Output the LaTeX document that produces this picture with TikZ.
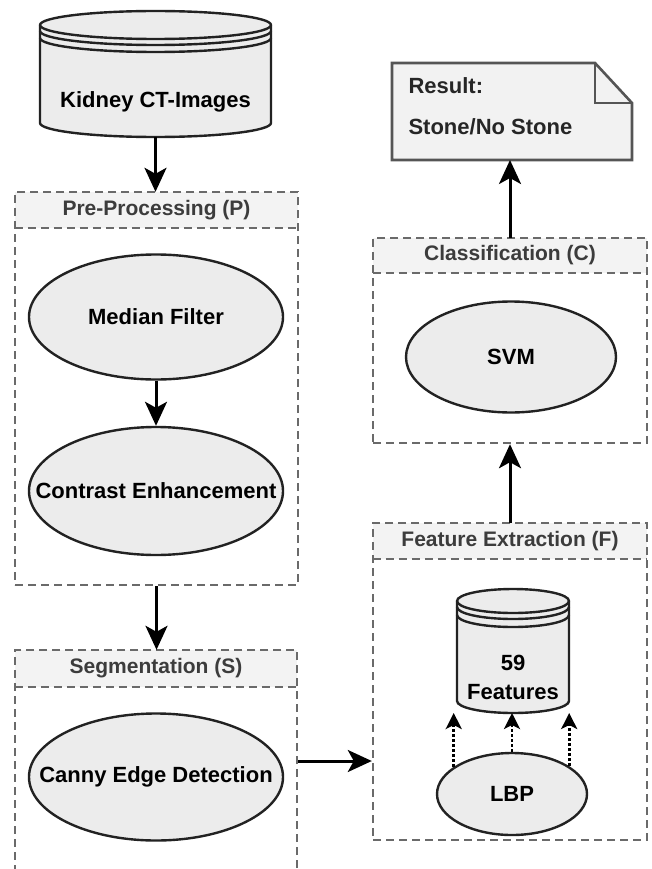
\documentclass[tikz,border=0pt]{standalone}
\usepackage{fontspec}
\setmainfont{Liberation Sans}
\usetikzlibrary{shapes.geometric,arrows.meta,calc}

\definecolor{shapefill}{HTML}{ECECEC}
\definecolor{headfill}{HTML}{F3F3F3}
\definecolor{dashgray}{HTML}{6A6A6A}
\definecolor{outline}{HTML}{222222}
\definecolor{headtext}{HTML}{3C3C3C}
\definecolor{notefill}{HTML}{F2F2F2}
\definecolor{noteline}{HTML}{555555}

\tikzset{
  every node/.style={font=\fontsize{22}{26}\selectfont\bfseries},
  procnode/.style={ellipse, draw=outline, fill=shapefill, line width=2.4pt, inner sep=0pt},
  groupline/.style={draw=dashgray, line width=2.4pt, dash pattern=on 8pt off 5pt},
  groupbox/.style={groupline, inner sep=0pt},
  grouphead/.style={fill=headfill, text=headtext, inner sep=0pt, font=\fontsize{21}{25}\selectfont\bfseries},
  flow/.style={-{Stealth[length=24pt,width=22pt,inset=6pt]}, line width=3pt, black},
  dotflow/.style={-{Stealth[length=16pt,width=16pt,inset=4pt]}, line width=2.8pt, dash pattern=on 2.8pt off 2.2pt, black},
  storeframe/.style={draw=outline, fill=shapefill, line width=2.4pt},
  storeline/.style={draw=outline, line width=2.4pt},
  notestyle/.style={draw=noteline, fill=notefill, line width=2.6pt, line join=miter},
  anchorbox/.style={inner sep=0pt, outer sep=0pt},
}

% centred label of zero width, so an ellipse keeps its own size
\newcommand\ctr[1]{\makebox[0pt]{#1}}

% data store cylinder: left, right, top, bottom, lid radius, rim offsets
\newcommand\storeshape[7]{%
  \pgfmathsetmacro\strx{(#2-#1)/2}%
  \path[storeframe] (#1,-#3-#5) -- (#1,-#4+#5)
    arc[start angle=180,end angle=360,x radius=\strx,y radius=#5]
    -- (#2,-#3-#5)
    arc[start angle=0,end angle=180,x radius=\strx,y radius=#5] -- cycle;
  \draw[storeline] (#1,-#3-#5) arc[start angle=180,end angle=360,x radius=\strx,y radius=#5];
  \draw[storeline] (#1,-#3-#5-#6) arc[start angle=180,end angle=360,x radius=\strx,y radius=#5];
  \draw[storeline] (#1,-#3-#5-#7) arc[start angle=180,end angle=360,x radius=\strx,y radius=#5];
}

\begin{document}
\begin{tikzpicture}[x=1pt,y=1pt]
\useasboundingbox (0,0) rectangle (652,-869);

% ---------- input store ----------
\storeshape{40}{271}{11}{137}{14}{6}{13}
\node[anchorbox, minimum width=231pt, minimum height=126pt] (kidney) at (155.5,-74) {};
\node (kidneylbl) at (155.5,-102) {Kidney CT-Images};

% ---------- pre-processing group ----------
\node[grouphead, minimum width=283pt, minimum height=36pt] (preh) at (156.5,-210) {Pre-Processing (P)};
\node[groupbox, minimum width=283pt, minimum height=393pt] (pre) at (156.5,-388.5) {};
\draw[groupline] (preh.south west) -- (preh.south east);
\node[procnode, minimum width=254pt, minimum height=125pt] (median) at (156,-317) {\ctr{Median Filter}};
\node[procnode, minimum width=254pt, minimum height=128pt] (contrast) at (156,-491) {\ctr{Contrast Enhancement}};

% ---------- segmentation group ----------
\node[grouphead, minimum width=282pt, minimum height=37pt] (segh) at (156,-668.5) {Segmentation (S)};
\node[groupbox, minimum width=282pt, minimum height=222pt] (seg) at (156,-761) {};
\draw[groupline] (segh.south west) -- (segh.south east);
\node[procnode, minimum width=254pt, minimum height=127pt] (canny) at (156,-777) {\ctr{Canny Edge Detection}};

% ---------- feature extraction group ----------
\node[grouphead, minimum width=274pt, minimum height=36pt] (feath) at (510,-541) {Feature Extraction (F)};
\node[groupbox, minimum width=274pt, minimum height=317pt] (feat) at (510,-681.5) {};
\draw[groupline] (feath.south west) -- (feath.south east);
\storeshape{457}{569}{589}{713}{12}{6}{14}
\node[anchorbox, minimum width=112pt, minimum height=124pt] (f59) at (513,-651) {};
\node[align=center] (f59lbl) at (513,-677.5) {59\\[3pt]Features};
\node[procnode, minimum width=150pt, minimum height=82pt] (lbp) at (512,-794) {\ctr{LBP}};

% ---------- classification group ----------
\node[grouphead, minimum width=274pt, minimum height=35pt] (clsh) at (510,-255.5) {Classification (C)};
\node[groupbox, minimum width=274pt, minimum height=205pt] (cls) at (510,-340.5) {};
\draw[groupline] (clsh.south west) -- (clsh.south east);
\node[procnode, minimum width=210pt, minimum height=111pt] (svm) at (511,-357) {\ctr{SVM}};

% ---------- result note ----------
\node[anchorbox, minimum width=240pt, minimum height=97pt] (result) at (512,-111.5) {};
\path[notestyle] (result.north west) -- ([xshift=-37pt]result.north east)
  -- ([yshift=-40pt]result.north east) -- (result.south east)
  -- (result.south west) -- cycle;
\draw[notestyle, fill=none] ([xshift=-37pt]result.north east) |- ([yshift=-40pt]result.north east);
\node[anchor=base west, text=black!85] (restitle) at (405,-93.5) {Result:};
\node[anchor=base west, text=black!85] (resvalue) at (405,-134.5) {Stone/No Stone};

% ---------- connectors ----------
\draw[flow] (kidney.south) -- (kidney.south |- preh.north);
\draw[flow] (median.south) -- (contrast.north);
\draw[flow] (pre.south) -- (pre.south |- segh.north);
\draw[flow] (seg.east) -- (seg.east -| feat.west);
\draw[dotflow] (lbp.155) -- (lbp.155 |- f59.south);
\draw[dotflow] (lbp.north) -- (lbp.north |- f59.south);
\draw[dotflow] (lbp.26) -- (lbp.26 |- f59.south);
\draw[flow] (feath.north) -- (cls.south);
\draw[flow] (clsh.north) -- (clsh.north |- result.south);
\end{tikzpicture}
\end{document}
